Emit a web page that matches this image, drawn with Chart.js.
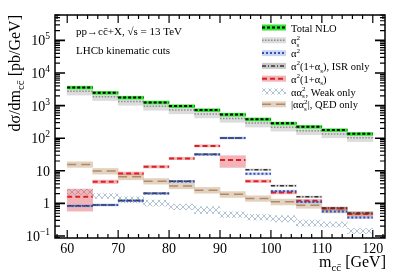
<!DOCTYPE html>
<html>
<head>
<meta charset="utf-8">
<script src="https://cdn.jsdelivr.net/npm/chart.js@4.4.1/dist/chart.umd.min.js"></script>
<style>
  html, body { margin: 0; padding: 0; background: #fff; }
  #wrap { width: 407px; height: 277px; }
</style>
</head>
<body>
<div id="wrap"><canvas id="xsec" width="407" height="277"></canvas></div>
<script>
// bin edges in m_cc [GeV]
const binLow = [60, 65, 70, 75, 80, 85, 90, 95, 100, 105, 110, 115];
const binHigh = [65, 70, 75, 80, 85, 90, 95, 100, 105, 110, 115, 120];

// Total NLO
const totalNLO = [3600, 2470, 1760, 1250, 965, 730, 530, 380, 285, 224, 177, 136];
const totalLo = [3200, 2200, 1570, 1110, 860, 650, 470, 338, 254, 200, 158, 121];
const totalHi = [3950, 2720, 1940, 1380, 1060, 800, 585, 418, 313, 246, 195, 150];

// alpha_s^2
const qcdLO = [2760, 1880, 1340, 950, 735, 555, 405, 290, 217, 170, 135, 104];
const qcdLo = [2100, 1430, 1020, 720, 560, 420, 308, 220, 165, 129, 103, 79];
const qcdHi = [3090, 2100, 1500, 1060, 820, 620, 453, 325, 243, 190, 151, 116];

// alpha^2
const ewLO = [0.83, 0.89, 1.2, 2.0, 4.7, 31.5, 101, 8.1, 2.35, 1.1, 0.57, 0.37];
const ewLo = [0.77, 0.83, 1.11, 1.85, 4.35, 29.2, 94, 7.5, 2.18, 1.02, 0.53, 0.34];
const ewHi = [0.9, 0.96, 1.3, 2.16, 5.1, 34, 109, 8.7, 2.54, 1.19, 0.62, 0.4];

// alpha^2(1+alpha_s), ISR only
const isrOnly = [0.85, 0.9, 1.22, 2.05, 4.8, 32, 102, 10.8, 3.5, 1.6, 0.72, 0.51];
const isrLo = [0.81, 0.86, 1.16, 1.95, 4.56, 30.4, 97, 10.3, 3.33, 1.52, 0.68, 0.48];
const isrHi = [0.89, 0.95, 1.28, 2.15, 5.04, 33.6, 107, 11.3, 3.67, 1.68, 0.76, 0.54];

// alpha^2(1+alpha_s)
const ewNLO = [1.6, 4.6, 8.3, 13.3, 24, 58, 21.3, 4.8, 2.15, 1.2, 0.7, 0.47];
const ewNLOLo = [0.58, 4.1, 7.5, 12.2, 22, 54, 12.7, 4.4, 1.95, 1.1, 0.64, 0.43];
const ewNLOHi = [2.75, 5.2, 9.2, 14.6, 26, 63, 29, 5.3, 2.4, 1.32, 0.77, 0.52];

// alpha alpha_s^2, Weak only (hatched band)
const weakLo = [1.9, 1.42, 1.04, 0.83, 0.64, 0.49, 0.37, 0.31, 0.27, 0.2, 0.19, 0.12];
const weakHi = [2.7, 2.0, 1.6, 1.26, 0.95, 0.79, 0.55, 0.46, 0.42, 0.31, 0.27, 0.17];

// |alpha alpha_s^2|, QED only
const qedOnly = [15.7, 9.8, 6.6, 4.8, 3.45, 2.55, 1.9, 1.42, 1.12, 0.88, 0.63, 0.47];
const qedLo = [12.7, 7.9, 5.3, 3.9, 2.8, 2.05, 1.53, 1.15, 0.9, 0.71, 0.51, 0.38];
const qedHi = [18.9, 11.8, 8.0, 5.8, 4.2, 3.1, 2.3, 1.72, 1.36, 1.07, 0.77, 0.57];

const xTickLabels = ['60', '70', '80', '90', '100', '110', '120'];
const yTickLabels = [['10', '\u22121'], ['1', ''], ['10', ''], ['10', '2'], ['10', '3'], ['10', '4'], ['10', '5']];

const SERIF = '"Liberation Serif", "DejaVu Serif", serif';

// helpers to turn bins into chart data
function bandData(lo, hi) {
  return binLow.map((l, i) => ({ x: (l + binHigh[i]) / 2, y: [lo[i], hi[i]] }));
}
function stepData(vals) {
  const pts = [];
  vals.forEach((v, i) => {
    pts.push({ x: binLow[i], y: v });
    pts.push({ x: binHigh[i], y: v });
    pts.push({ x: binHigh[i], y: null });
  });
  return pts;
}

// crosshatch pattern for the weak band
function makeHatch(color) {
  const c = document.createElement('canvas');
  c.width = 6; c.height = 6;
  const g = c.getContext('2d');
  g.strokeStyle = color;
  g.lineWidth = 0.9;
  g.beginPath();
  g.moveTo(0, 0); g.lineTo(6, 6);
  g.moveTo(0, 6); g.lineTo(6, 0);
  g.stroke();
  return g.createPattern(c, 'repeat');
}
const hatch = makeHatch('#a6bccf');

const styles = {
  total: { band: '#33e633', line: '#000000', dash: [3, 2], width: 2 },
  qcd: { band: '#dcdcdc', line: '#8c8c8c', dash: [1.5, 1.5], width: 1.5 },
  ew: { band: 'rgba(140,165,225,0.45)', line: '#3050b8', dash: [2, 2], width: 2 },
  isr: { band: 'rgba(100,100,100,0.35)', line: '#333333', dash: [4, 2, 1, 2], width: 1.5 },
  ewnlo: { band: 'rgba(220,70,80,0.4)', line: '#e02020', dash: [5, 3], width: 2 },
  weak: { band: hatch },
  qed: { band: 'rgba(195,155,115,0.45)', line: '#b08a68', dash: [9, 5], width: 1.5 }
};

function band(lo, hi, color, order) {
  return {
    type: 'bar', data: bandData(lo, hi), backgroundColor: color, borderWidth: 0,
    grouped: false, barPercentage: 1, categoryPercentage: 1, order: order
  };
}
function step(vals, st, order) {
  return {
    type: 'line', data: stepData(vals), borderColor: st.line, borderWidth: st.width,
    borderDash: st.dash, pointRadius: 0, spanGaps: false, fill: false, order: order
  };
}

// rich text: segments {t, sup, sub}
function richWidth(ctx, segs, size) {
  let w = 0;
  segs.forEach(s => {
    ctx.font = size + 'px ' + SERIF;
    w += ctx.measureText(s.t).width;
    ctx.font = (size * 0.68) + 'px ' + SERIF;
    w += Math.max(s.sup ? ctx.measureText(s.sup).width : 0, s.sub ? ctx.measureText(s.sub).width : 0);
  });
  return w;
}
function drawRich(ctx, segs, x, y, size, align) {
  const w = richWidth(ctx, segs, size);
  let cx = align === 'right' ? x - w : align === 'center' ? x - w / 2 : x;
  ctx.textAlign = 'left';
  ctx.textBaseline = 'alphabetic';
  segs.forEach(s => {
    ctx.font = size + 'px ' + SERIF;
    ctx.fillText(s.t, cx, y);
    cx += ctx.measureText(s.t).width;
    ctx.font = (size * 0.68) + 'px ' + SERIF;
    let sw = 0;
    if (s.sup) { ctx.fillText(s.sup, cx, y - size * 0.42); sw = ctx.measureText(s.sup).width; }
    if (s.sub) { ctx.fillText(s.sub, cx, y + size * 0.26); sw = Math.max(sw, ctx.measureText(s.sub).width); }
    cx += sw;
  });
}

const legendItems = [
  { st: styles.total, text: [{ t: 'Total NLO' }] },
  { st: styles.qcd, text: [{ t: '\u03b1', sup: '2', sub: 's' }] },
  { st: styles.ew, text: [{ t: '\u03b1', sup: '2' }] },
  { st: styles.isr, text: [{ t: '\u03b1', sup: '2' }, { t: '(1+\u03b1', sub: 's' }, { t: '), ISR only' }] },
  { st: styles.ewnlo, text: [{ t: '\u03b1', sup: '2' }, { t: '(1+\u03b1', sub: 's' }, { t: ')' }] },
  { st: styles.weak, text: [{ t: '\u03b1\u03b1', sup: '2', sub: 's' }, { t: ', Weak only' }] },
  { st: styles.qed, text: [{ t: '|\u03b1\u03b1', sup: '2', sub: 's' }, { t: '|, QED only' }] }
];

const rootFrame = {
  id: 'rootFrame',
  afterDraw(chart) {
    const ctx = chart.ctx;
    const a = chart.chartArea;
    const xs = chart.scales.x, ys = chart.scales.y;
    ctx.save();
    ctx.strokeStyle = '#000';
    ctx.fillStyle = '#000';

    // x ticks, bottom and top
    ctx.lineWidth = 1.2;
    for (let v = 58; v <= 122; v += 2) {
      const px = xs.getPixelForValue(v);
      const len = v % 10 === 0 ? 8 : 4;
      ctx.beginPath();
      ctx.moveTo(px, a.bottom); ctx.lineTo(px, a.bottom - len);
      ctx.moveTo(px, a.top); ctx.lineTo(px, a.top + len);
      ctx.stroke();
    }
    // y ticks, left and right
    for (let k = -2; k <= 6; k++) {
      for (let m = 1; m <= 9; m++) {
        const v = m * Math.pow(10, k);
        if (v < ys.min || v > ys.max) continue;
        const py = ys.getPixelForValue(v);
        const len = m === 1 ? 10 : 5;
        ctx.lineWidth = m === 1 ? 1.6 : 1.2;
        ctx.beginPath();
        ctx.moveTo(a.left, py); ctx.lineTo(a.left + len, py);
        ctx.moveTo(a.right, py); ctx.lineTo(a.right - len, py);
        ctx.stroke();
      }
    }
    // frame
    ctx.lineWidth = 1.5;
    ctx.strokeRect(a.left, a.top, a.right - a.left, a.bottom - a.top);

    // tick labels
    xTickLabels.forEach(l => {
      drawRich(ctx, [{ t: l }], xs.getPixelForValue(+l), a.bottom + 15, 14, 'center');
    });
    yTickLabels.forEach((l, i) => {
      const py = ys.getPixelForValue(Math.pow(10, i - 1));
      drawRich(ctx, [{ t: l[0], sup: l[1] }], a.left - 5, py + 5, 14, 'right');
    });

    // axis titles
    drawRich(ctx, [{ t: 'm', sub: 'cc\u0304' }, { t: ' [GeV]' }], a.right + 1, 267, 16, 'right');
    ctx.save();
    ctx.translate(20, a.top);
    ctx.rotate(-Math.PI / 2);
    drawRich(ctx, [{ t: 'd\u03c3/dm', sub: 'cc\u0304' }, { t: ' [pb/GeV]' }], 0, 0, 16, 'right');
    ctx.restore();

    // process labels
    drawRich(ctx, [{ t: 'pp\u2192cc\u0304+X, \u221as = 13 TeV' }], 76, 35, 11, 'left');
    drawRich(ctx, [{ t: 'LHCb kinematic cuts' }], 76, 54, 11, 'left');

    // legend
    legendItems.forEach((it, i) => {
      const cy = 27.5 + i * 12.8;
      const x0 = 262, x1 = 286;
      ctx.fillStyle = it.st.band;
      ctx.fillRect(x0, cy - 3, x1 - x0, 6);
      if (it.st.line) {
        ctx.save();
        ctx.strokeStyle = it.st.line;
        ctx.lineWidth = it.st.width;
        ctx.setLineDash(it.st.dash);
        ctx.beginPath();
        ctx.moveTo(x0, cy); ctx.lineTo(x1, cy);
        ctx.stroke();
        ctx.restore();
      }
      ctx.fillStyle = '#000';
      drawRich(ctx, it.text, 291, cy + 4, 10.5, 'left');
    });
    ctx.restore();
  }
};

new Chart(document.getElementById('xsec'), {
  type: 'bar',
  data: {
    datasets: [
      band(qcdLo, qcdHi, styles.qcd.band, 20),
      band(totalLo, totalHi, styles.total.band, 19),
      band(qedLo, qedHi, styles.qed.band, 18),
      band(weakLo, weakHi, styles.weak.band, 17),
      band(ewNLOLo, ewNLOHi, styles.ewnlo.band, 16),
      band(ewLo, ewHi, styles.ew.band, 15),
      band(isrLo, isrHi, styles.isr.band, 14),
      step(qcdLO, styles.qcd, 8),
      step(totalNLO, styles.total, 7),
      step(qedOnly, styles.qed, 6),
      step(ewNLO, styles.ewnlo, 5),
      step(isrOnly, styles.isr, 4),
      step(ewLO, styles.ew, 3)
    ]
  },
  options: {
    responsive: false,
    animation: false,
    layout: { padding: { left: 55, right: 22, top: 15, bottom: 39 } },
    plugins: { legend: { display: false }, tooltip: { enabled: false } },
    scales: {
      x: { type: 'linear', min: 57.6, max: 122.4, offset: false, display: false },
      y: { type: 'logarithmic', min: 0.087, max: 6e5, display: false }
    }
  },
  plugins: [rootFrame]
});
</script>
</body>
</html>
